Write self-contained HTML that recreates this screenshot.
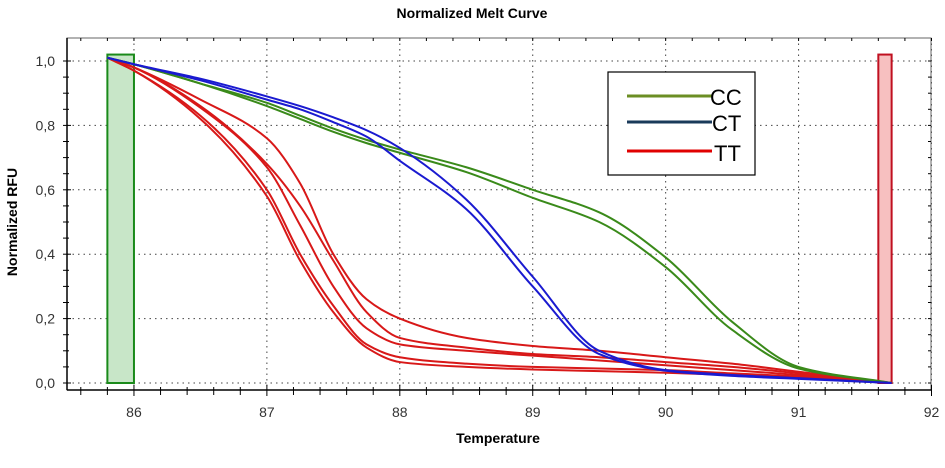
<!DOCTYPE html>
<html><head><meta charset="utf-8"><style>
body{margin:0;background:#fff;width:945px;height:463px;overflow:hidden;font-family:"Liberation Sans",Arial,sans-serif}
</style></head><body>
<svg id="chart" width="945" height="463" xmlns="http://www.w3.org/2000/svg">
<text x="472" y="18" text-anchor="middle" font-weight="bold" font-size="14">Normalized Melt Curve</text>
<text x="498" y="443" text-anchor="middle" font-weight="bold" font-size="14">Temperature</text>
<text transform="translate(17,222) rotate(-90)" text-anchor="middle" font-weight="bold" font-size="14">Normalized RFU</text>
<g id="grid"></g>
<g id="bands"></g>
<g id="series"></g>
<g id="axes"></g>
<g>
<rect x="608" y="72" width="147" height="103" fill="#fff" stroke="#000" stroke-width="1.2"/>
<line x1="627" y1="96" x2="712" y2="96" stroke="#6b8e23" stroke-width="3"/>
<text x="710" y="105" font-size="22" font-family="Liberation Sans Narrow,Liberation Sans,sans-serif">CC</text>
<line x1="627" y1="122" x2="712" y2="122" stroke="#1a3a5a" stroke-width="3"/>
<text x="712" y="131" font-size="22" font-family="Liberation Sans Narrow,Liberation Sans,sans-serif">CT</text>
<line x1="627" y1="151" x2="712" y2="151" stroke="#e00000" stroke-width="3"/>
<text x="714" y="161" font-size="22" font-family="Liberation Sans Narrow,Liberation Sans,sans-serif">TT</text>
</g>
</svg>
<script>
const temps=[85.8,86,86.5,87,87.25,87.5,87.75,88,88.5,89,89.5,90,90.5,91,91.7];
const cc1=[1.01,0.99,0.93,0.87,0.83,0.79,0.755,0.725,0.67,0.60,0.53,0.39,0.19,0.05,0];
const cc2=[1.01,0.99,0.93,0.86,0.82,0.78,0.745,0.715,0.655,0.575,0.50,0.36,0.165,0.045,0];
const ct1=[1.01,0.99,0.945,0.89,0.86,0.825,0.785,0.73,0.57,0.33,0.10,0.04,0.025,0.015,0];
const ct2=[1.01,0.99,0.94,0.88,0.85,0.81,0.765,0.69,0.54,0.30,0.09,0.038,0.022,0.013,0];
const tt1=[1.01,0.98,0.88,0.76,0.62,0.40,0.26,0.20,0.14,0.115,0.10,0.08,0.06,0.035,0];
const tt2=[1.01,0.98,0.86,0.68,0.55,0.38,0.22,0.14,0.11,0.09,0.08,0.065,0.05,0.03,0];
const tt3=[1.01,0.98,0.855,0.67,0.49,0.30,0.17,0.12,0.10,0.085,0.07,0.055,0.04,0.025,0];
const tt4=[1.01,0.97,0.83,0.60,0.40,0.24,0.12,0.08,0.06,0.05,0.045,0.04,0.03,0.02,0];
const tt5=[1.01,0.97,0.82,0.58,0.38,0.22,0.11,0.065,0.05,0.042,0.037,0.032,0.025,0.015,0];
const xTicks=[86,87,88,89,90,91,92];
const yTicks=[0,0.2,0.4,0.6,0.8,1.0];
const yLabels=["0,0","0,2","0,4","0,6","0,8","1,0"];
const X0=85.5,X1=92,PX0=67.5,PX1=931.5,PY0=383,PY1=61;
const sx=t=>PX0+(t-X0)*(PX1-PX0)/(X1-X0);
const sy=v=>PY0-v*(PY0-PY1);
const NS="http://www.w3.org/2000/svg";
function mk(tag,attrs,parent){const e=document.createElementNS(NS,tag);for(const k in attrs)e.setAttribute(k,attrs[k]);parent.appendChild(e);return e;}
const grid=document.getElementById('grid'),axes=document.getElementById('axes'),bands=document.getElementById('bands'),series=document.getElementById('series');
const FT=38,FB=390;
xTicks.forEach(t=>{const l=mk('line',{x1:sx(t),x2:sx(t),y1:FT,y2:FB,stroke:'#444','stroke-dasharray':'1.5,4','stroke-width':1},grid);

});
yTicks.forEach(v=>{const l=mk('line',{x1:67,x2:931,y1:sy(v),y2:sy(v),stroke:'#444','stroke-dasharray':'1.5,4','stroke-width':1},grid);

});
const gb=mk('rect',{x:sx(85.8),y:sy(1.02),width:sx(86)-sx(85.8),height:sy(0)-sy(1.02),fill:'#c8e6c8',stroke:'#1a8a1a','stroke-width':2},bands);


const rb=mk('rect',{x:sx(91.6),y:sy(1.02),width:sx(91.7)-sx(91.6),height:sy(0)-sy(1.02),fill:'#f7c0c0',stroke:'#c01020','stroke-width':2},bands);


// monotone cubic (Fritsch–Carlson) path in pixel space
function path(vals){
 const X=temps.map(sx),Y=vals.map(sy),n=X.length;
 const d=[],m=new Array(n);
 for(let i=0;i<n-1;i++)d.push((Y[i+1]-Y[i])/(X[i+1]-X[i]));
 m[0]=d[0];m[n-1]=d[n-2];
 for(let i=1;i<n-1;i++){ if(d[i-1]*d[i]<=0)m[i]=0; else{const h0=X[i]-X[i-1],h1=X[i+1]-X[i];const w1=2*h1+h0,w2=h1+2*h0;m[i]=(w1+w2)/(w1/d[i-1]+w2/d[i]);} }
 let s='M'+X[0]+','+Y[0];
 for(let i=0;i<n-1;i++){const h=X[i+1]-X[i];
  s+=' C'+(X[i]+h/3)+','+(Y[i]+m[i]*h/3)+' '+(X[i+1]-h/3)+','+(Y[i+1]-m[i+1]*h/3)+' '+X[i+1]+','+Y[i+1];}
 return s;}
[[tt1,'#d81818','tt-curve'],[tt2,'#d81818','tt-curve'],[tt3,'#d81818','tt-curve'],[tt4,'#d81818','tt-curve'],[tt5,'#d81818','tt-curve'],
 [cc1,'#3a8a1a','cc-curve'],[cc2,'#3a8a1a','cc-curve'],[ct1,'#1a1ad0','ct-curve'],[ct2,'#1a1ad0','ct-curve']].forEach(s=>{
 const e=mk('path',{d:path(s[0]),fill:'none',stroke:s[1],'stroke-width':2},series);
 
 });
mk('rect',{x:67,y:FT,width:931-67,height:FB-FT,fill:'none',stroke:'#666','stroke-width':1},axes);
mk('line',{x1:67,x2:67,y1:FT,y2:FB,stroke:'#000','stroke-width':1.5},axes);
mk('line',{x1:67,x2:932,y1:FB,y2:FB,stroke:'#000','stroke-width':1.5},axes);
for(let v=0;v<=1.0001;v+=0.05){mk('line',{x1:63,x2:Math.abs(v*5-Math.round(v*5))<1e-6?71:69,y1:sy(v),y2:sy(v),stroke:'#000'},axes);
 mk('line',{x1:928,x2:931,y1:sy(v),y2:sy(v),stroke:'#000'},axes);}
for(let t=85.6;t<=92.001;t+=0.2){const maj=Math.abs(t-Math.round(t))<1e-6;mk('line',{x1:sx(t),x2:sx(t),y1:FB-(maj?5:3),y2:FB+(maj?6:5),stroke:'#000'},axes);
 mk('line',{x1:sx(t),x2:sx(t),y1:FT,y2:FT+3,stroke:'#000'},axes);}
xTicks.forEach(t=>{const e=mk('text',{x:sx(t),y:417,'text-anchor':'middle','font-size':14,fill:'#333'},axes);e.textContent=String(t);

});
yTicks.forEach((v,i)=>{const e=mk('text',{x:55,y:sy(v)+5,'text-anchor':'end','font-size':14,fill:'#333'},axes);e.textContent=yLabels[i];

});
</script>
</body></html>
